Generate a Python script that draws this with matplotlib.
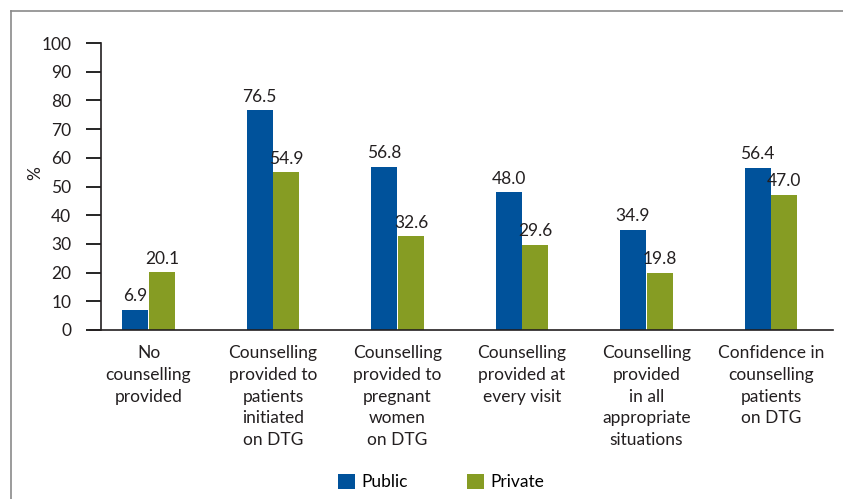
import matplotlib
matplotlib.use('Agg')
import matplotlib.pyplot as plt
from matplotlib.lines import Line2D

plt.rcParams['font.family'] = ['Lato', 'DejaVu Sans']

# data
categories = ['No\ncounselling\nprovided',
              'Counselling\nprovided to\npatients\ninitiated\non DTG',
              'Counselling\nprovided to\npregnant\nwomen\non DTG',
              'Counselling\nprovided at\nevery visit',
              'Counselling\nprovided\nin all\nappropriate\nsituations',
              'Confidence in\ncounselling\npatients\non DTG']
public = [6.9, 76.5, 56.8, 48.0, 34.9, 56.4]
private = [20.1, 54.9, 32.6, 29.6, 19.8, 47.0]
yticks = [0, 10, 20, 30, 40, 50, 60, 70, 80, 90, 100]

blue = '#00529b'
green = '#869c23'
txt = '#231f20'
fs = 12.5
W, H = 843, 499

fig = plt.figure(figsize=(W / 100, H / 100), dpi=100)
# axes box in pixels: left 90, right 833, top 43, bottom 330
ax = fig.add_axes([90 / W, 1 - 330 / H, (833 - 90) / W, (330 - 43) / H])

x = list(range(len(categories)))
bw = 0.209
off = 0.108
b1 = ax.bar([i - off for i in x], public, bw, color=blue, label='Public')
b2 = ax.bar([i + off for i in x], private, bw, color=green, label='Private')

for bars in (b1, b2):
    for r in bars:
        ax.text(r.get_x() + r.get_width() / 2, r.get_height() + 2.0,
                '%.1f' % r.get_height(), ha='center', va='bottom',
                fontsize=fs, color=txt)

ax.set_xlim(-0.47, 5.498)
ax.set_ylim(0, 100)
ax.set_yticks(yticks)
ax.set_xticks(x)
ax.set_xticklabels(categories, fontsize=fs, linespacing=1.44, color=txt)
ax.tick_params(axis='x', length=0, pad=11)
ax.tick_params(axis='y', length=11, width=1.2, direction='out', pad=10.5,
               labelsize=fs, labelcolor=txt)

ax.spines['top'].set_visible(False)
ax.spines['right'].set_visible(False)
ax.spines['left'].set_position(('data', -0.3815))
for s in ('left', 'bottom'):
    ax.spines[s].set_linewidth(1.2)
    ax.spines[s].set_color(txt)

fig.text(35 / W, 1 - 173 / H, '%', rotation=90, ha='center', va='center',
         fontsize=fs, color=txt)

fig.legend(handles=[b1, b2], loc='center', bbox_to_anchor=(441 / W, 1 - 482 / H),
           ncol=2, frameon=False, fontsize=fs, handlelength=1.0,
           handleheight=1.0, handletextpad=0.35, columnspacing=3.4)

# grey frame at the top and left
fig.add_artist(Line2D([11 / W, 11 / W], [0, 1 - 11 / H], color='#8a8a8a', lw=1.2))
fig.add_artist(Line2D([11 / W, 1], [1 - 11 / H, 1 - 11 / H], color='#8a8a8a', lw=1.2))

fig.savefig('out.png', dpi=100)
